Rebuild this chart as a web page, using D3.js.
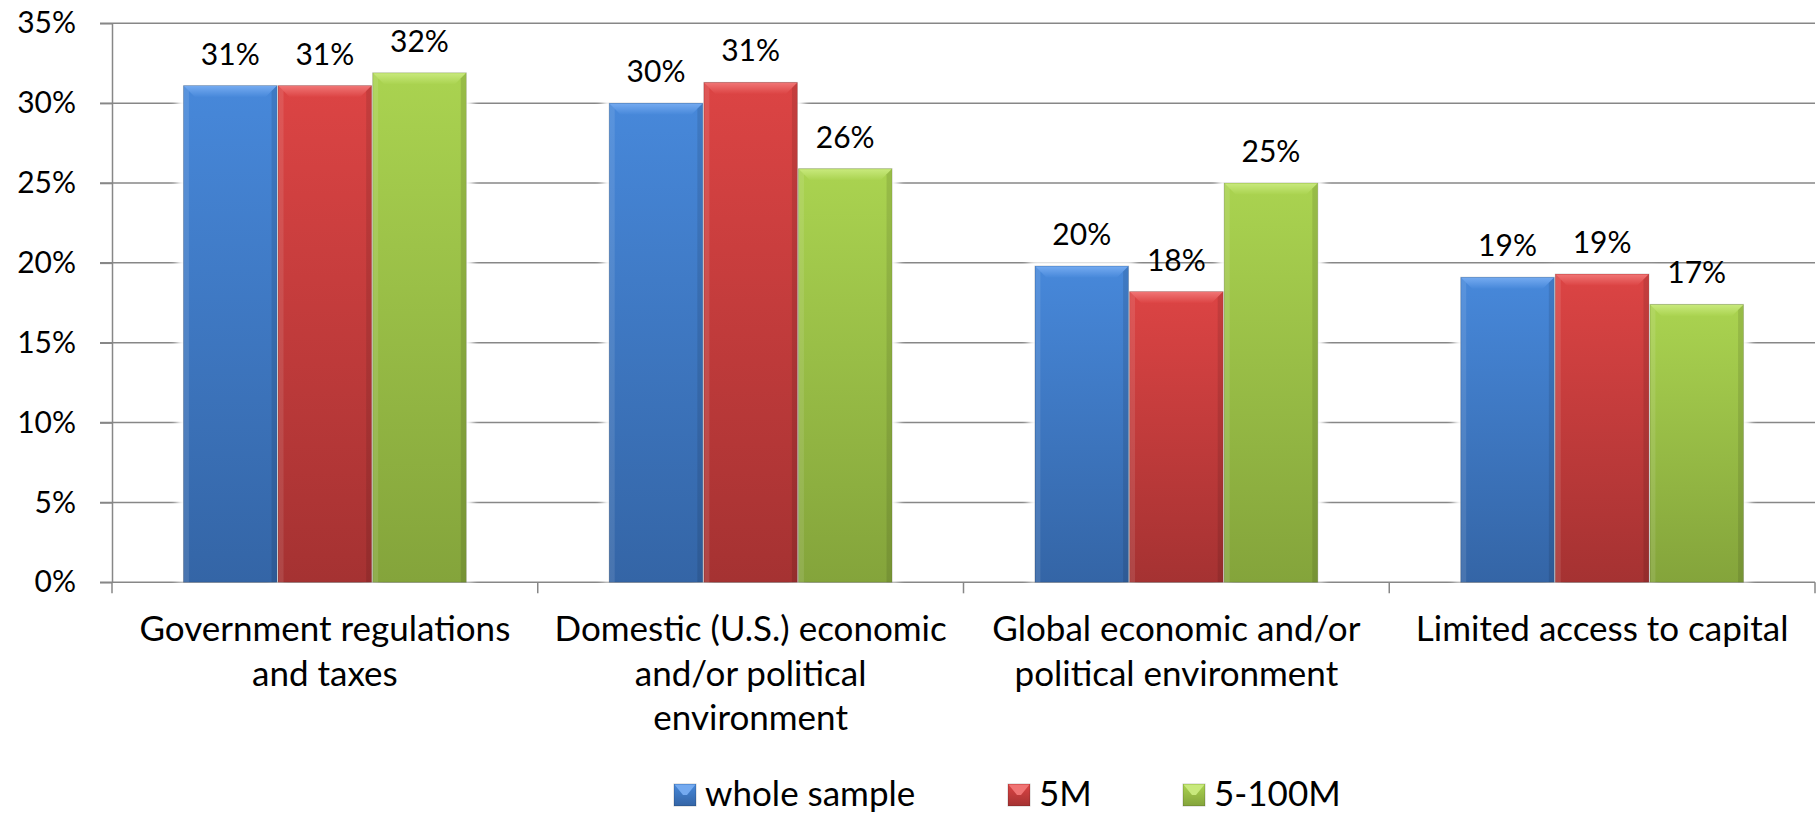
<!DOCTYPE html>
<html>
<head>
<meta charset="utf-8">
<script src="https://cdn.jsdelivr.net/npm/d3@7"></script>
<style>
  html, body { margin: 0; padding: 0; background: #ffffff; }
  svg { display: block; }
  text { font-family: Lato, "Open Sans", sans-serif; fill: #000000; }
</style>
</head>
<body>
<svg id="chart" width="1818" height="815"></svg>
<script>
// ---- data ----
const categories = [
  "Government regulations and taxes",
  "Domestic (U.S.) economic and/or political environment",
  "Global economic and/or political environment",
  "Limited access to capital"
];
const categoryLines = [
  ["Government regulations", "and taxes"],
  ["Domestic (U.S.) economic", "and/or political", "environment"],
  ["Global economic and/or", "political environment"],
  ["Limited access to capital"]
];
const seriesNames = ["whole sample", "5M", "5-100M"];
const wholeSample = [0.311, 0.300, 0.198, 0.191];
const fiveM       = [0.311, 0.313, 0.182, 0.193];
const fiveTo100M  = [0.319, 0.259, 0.250, 0.174];
const yTicks = [0, 0.05, 0.10, 0.15, 0.20, 0.25, 0.30, 0.35];

// ---- styling ----
const seriesColors = [
  { top: "#4788da", bottom: "#3465a6", bevel: "#74aaf0" },
  { top: "#dc4444", bottom: "#a53232", bevel: "#f07474" },
  { top: "#aad350", bottom: "#84a43b", bevel: "#c8e97c" }
];
const gridColor = "#878787";
const numberFont = 30;   // tick and value labels
const wordFont = 35;     // category and legend labels

const svg = d3.select("#chart");
const defs = svg.append("defs");

const seriesValues = [wholeSample, fiveM, fiveTo100M];
const rows = categories.map((c, i) => ({
  category: c,
  lines: categoryLines[i],
  values: seriesNames.map((s, k) => ({ series: s, k, value: seriesValues[k][i] }))
}));

// ---- scales ----
const x0 = d3.scaleBand().domain(categories).range([112, 1815]).padding(0);
const x1 = d3.scaleBand().domain(seriesNames)
  .range([x0.bandwidth() / 6, x0.bandwidth() * 5 / 6]).padding(0);
const y = d3.scaleLinear().domain([0, 0.35]).range([582.3, 23.3]);
const pct = d3.format(".0%");

// gradients per series
seriesColors.forEach((c, k) => {
  const g = defs.append("linearGradient")
    .attr("id", "bar-grad-" + k)
    .attr("x1", 0).attr("y1", 0).attr("x2", 0).attr("y2", 1);
  g.append("stop").attr("offset", "0%").attr("stop-color", c.top);
  g.append("stop").attr("offset", "100%").attr("stop-color", c.bottom);
  const b = defs.append("linearGradient")
    .attr("id", "bevel-grad-" + k)
    .attr("x1", 0).attr("y1", 0).attr("x2", 0).attr("y2", 1);
  b.append("stop").attr("offset", "0%").attr("stop-color", c.bevel);
  b.append("stop").attr("offset", "100%").attr("stop-color", c.top);
});

// soft halo around the bars
const halo = defs.append("filter").attr("id", "halo")
  .attr("x", "-20%").attr("y", "-20%").attr("width", "140%").attr("height", "140%");
halo.append("feGaussianBlur").attr("stdDeviation", 3.5);

// ---- gridlines ----
svg.append("g").attr("class", "grid")
  .selectAll("line").data(yTicks).join("line")
  .attr("x1", 100).attr("x2", 1815)
  .attr("y1", d => y(d)).attr("y2", d => y(d))
  .attr("stroke", gridColor).attr("stroke-width", 1.5);

// ---- y axis ----
const yAxis = svg.append("g").attr("transform", "translate(112,0)")
  .call(d3.axisLeft(y).tickValues(yTicks).tickFormat(pct)
    .tickSize(12).tickSizeOuter(0).tickPadding(24));
yAxis.select(".domain").attr("stroke", gridColor).attr("stroke-width", 1.5);
yAxis.selectAll(".tick line").attr("stroke", gridColor).attr("stroke-width", 1.5);
yAxis.selectAll(".tick text")
  .attr("font-size", numberFont).attr("font-family", "Lato, 'Open Sans', sans-serif")
  .attr("fill", "#000");

// ---- x axis ----
const xAxis = svg.append("g").attr("transform", `translate(0,${y(0)})`);
const boundaries = categories.map(c => x0(c)).concat([x0(categories[categories.length - 1]) + x0.bandwidth()]);
xAxis.selectAll("line.tick").data(boundaries).join("line")
  .attr("class", "tick")
  .attr("x1", d => d).attr("x2", d => d)
  .attr("y1", 0).attr("y2", 11)
  .attr("stroke", gridColor).attr("stroke-width", 1.5);
xAxis.selectAll("text.cat").data(rows).join("text")
  .attr("class", "cat")
  .attr("text-anchor", "middle")
  .attr("font-size", wordFont)
  .attr("transform", d => `translate(${x0(d.category) + x0.bandwidth() / 2},59)`)
  .selectAll("tspan").data(d => d.lines).join("tspan")
  .attr("x", 0).attr("y", (d, i) => i * 44.5)
  .text(d => d);

// ---- bars ----
const groups = svg.append("g").attr("class", "bars")
  .selectAll("g").data(rows).join("g")
  .attr("transform", d => `translate(${x0(d.category)},0)`);

// halo behind each bar
groups.selectAll("rect.halo").data(d => d.values).join("rect")
  .attr("class", "halo")
  .attr("x", d => x1(d.series) - 6)
  .attr("y", d => y(d.value) - 6)
  .attr("width", x1.bandwidth() + 12)
  .attr("height", d => y(0) - y(d.value) + 6)
  .attr("fill", "#ffffff")
  .attr("filter", "url(#halo)");

const bar = groups.selectAll("g.bar").data(d => d.values).join("g").attr("class", "bar");

bar.append("rect")
  .attr("x", d => x1(d.series) + 0.5)
  .attr("y", d => y(d.value))
  .attr("width", x1.bandwidth() - 1)
  .attr("height", d => y(0) - y(d.value))
  .attr("fill", d => `url(#bar-grad-${d.k})`)
  .attr("stroke", "rgba(0,0,0,0.18)")
  .attr("stroke-width", 1);

const bev = 11;
// top bevel
bar.append("polygon")
  .attr("points", d => {
    const xl = x1(d.series) + 1, xr = x1(d.series) + x1.bandwidth() - 1, t = y(d.value) + 0.5;
    return [[xl, t], [xr, t], [xr - bev, t + bev], [xl + bev, t + bev]].map(p => p.join(",")).join(" ");
  })
  .attr("fill", d => `url(#bevel-grad-${d.k})`);
// side shading
bar.append("polygon")
  .attr("points", d => {
    const xl = x1(d.series) + 1, t = y(d.value) + 0.5, b = y(0);
    return [[xl, t], [xl + 5, t + 5], [xl + 5, b], [xl, b]].map(p => p.join(",")).join(" ");
  })
  .attr("fill", "rgba(255,255,255,0.10)");
bar.append("polygon")
  .attr("points", d => {
    const xr = x1(d.series) + x1.bandwidth() - 1, t = y(d.value) + 0.5, b = y(0);
    return [[xr, t], [xr - 5, t + 5], [xr - 5, b], [xr, b]].map(p => p.join(",")).join(" ");
  })
  .attr("fill", "rgba(0,0,0,0.10)");

// value labels
groups.selectAll("text.val").data(d => d.values).join("text")
  .attr("class", "val")
  .attr("x", d => x1(d.series) + x1.bandwidth() / 2)
  .attr("y", d => y(d.value) - 21)
  .attr("text-anchor", "middle")
  .attr("font-size", numberFont)
  .text(d => pct(d.value));

// ---- legend ----
const legendX = [674, 1008, 1183];
const legend = svg.append("g").attr("class", "legend")
  .selectAll("g").data(seriesNames).join("g")
  .attr("transform", (d, i) => `translate(${legendX[i]},784)`);
const sw = 22, lb = 9;
legend.append("rect")
  .attr("width", sw).attr("height", sw)
  .attr("fill", (d, i) => `url(#bar-grad-${i})`)
  .attr("stroke", "rgba(0,0,0,0.2)").attr("stroke-width", 1);
legend.append("polygon")
  .attr("points", [[0.5, 0.5], [sw - 0.5, 0.5], [sw - lb, lb + 2], [lb, lb + 2]].map(p => p.join(",")).join(" "))
  .attr("fill", (d, i) => seriesColors[i].bevel);
legend.append("text")
  .attr("x", sw + 9).attr("y", 22)
  .attr("font-size", wordFont)
  .text(d => d);
</script>
</body>
</html>
